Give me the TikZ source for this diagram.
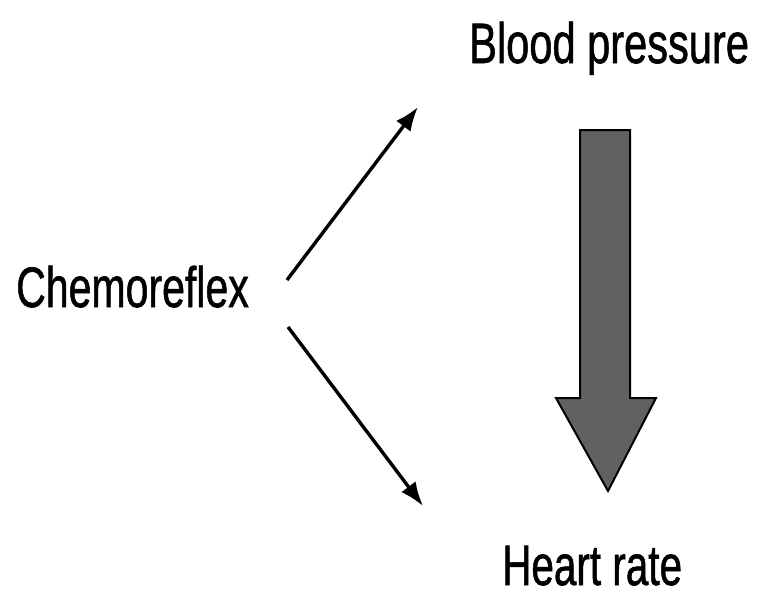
\documentclass[tikz,border=0pt]{standalone}
\usepackage{fontspec}
\setmainfont{Liberation Sans}
\newfontfamily\lblfont[FakeBold=1.2]{Liberation Sans}
\usetikzlibrary{arrows.meta}
\begin{document}
\begin{tikzpicture}[x=1pt,y=-1pt,
  lbl/.style={anchor=base west,inner sep=0pt,font=\lblfont\fontsize{57}{60}\selectfont},
  thin arrow/.style={line width=3.4pt,-{Latex[length=24pt,width=18pt]}},
  big arrow/.style={draw=black,line width=2pt,fill=black!62,line join=miter}]
\useasboundingbox (0,0) rectangle (761,597);
\node[lbl] (bp) at (469,63) {\scalebox{0.73}[1]{Blood pressure}};
\node[lbl] (chemo) at (16,307) {\scalebox{0.72}[1]{Chemoreflex}};
\node[lbl] (hr) at (502,585) {\scalebox{0.71}[1]{Heart rate}};
\coordinate (up start) at (287,280);
\coordinate (up end) at (418,107);
\coordinate (down start) at (288,327);
\coordinate (down end) at (423,506);
\draw[thin arrow] (up start) -- (up end);
\draw[thin arrow] (down start) -- (down end);
\draw[big arrow] (580,130) -- (630,130) -- (630,398) -- (656,398) -- (608,491) -- (556,398) -- (580,398) -- cycle;
\end{tikzpicture}
\end{document}
